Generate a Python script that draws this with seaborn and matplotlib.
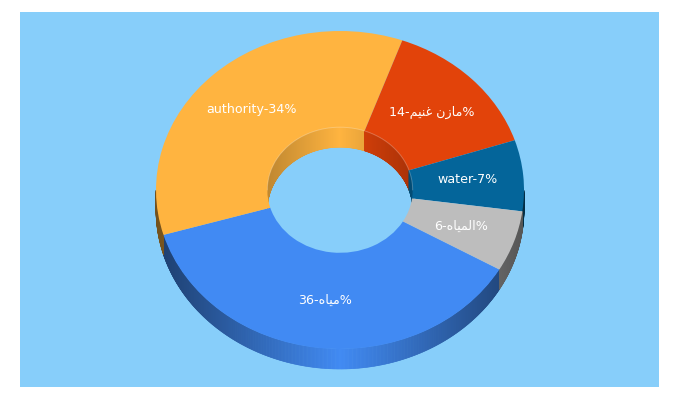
import numpy as np
import matplotlib
matplotlib.use("Agg")
import matplotlib.pyplot as plt
from matplotlib.collections import PolyCollection
import seaborn as sns

# Dados do grafico (ordem horaria, a partir do azul)
# Arabe em formas de apresentacao e ordem visual: o matplotlib nao faz shaping nem bidi
categorias = [
    "36-\ufee9\ufe8e\ufef4\ufee3%",
    "authority-34%",
    "14-\ufee2\ufef4\ufee8\ufecf \ufee5\ufeaf\ufe8e\ufee3%",
    "water-7%",
    "6-\ufee9\ufe8e\ufef4\ufee4\ufedf\ufe8d%",
]
valores = [36, 34, 14, 7, 6]
cores = ["#418AF3", "#FFB440", "#E2430A", "#04659A", "#BDBDBD"]

# Geometria em pixels da imagem de referencia
CX, CY = 340, 190
RX, RY = 184, 159
ESPESSURA = 20
RAIO_FURO = 0.395
INICIO = 120  # graus, sentido horario a partir do topo


# Parede lateral de cada fatia, em tiras com sombra conforme x
def desenhar_paredes(ax, fatias, raio, sombra_borda, frente):
    profundidade = ESPESSURA / RY
    total = sum(valores)
    inicio = INICIO
    for valor, cor in zip(valores, fatias):
        fim = inicio + 360 * valor / total
        ang = np.radians(np.linspace(inicio, fim, max(int(fim - inicio) * 4, 2)))
        inicio = fim
        tiras, tons = [], []
        for a0, a1 in zip(ang[:-1], ang[1:]):
            meio = (a0 + a1) / 2
            if (np.cos(meio) < 0) != frente:
                continue
            x0, y0 = raio * np.sin(a0), raio * np.cos(a0)
            x1, y1 = raio * np.sin(a1), raio * np.cos(a1)
            tiras.append([(x0, y0), (x1, y1), (x1, y1 - profundidade), (x0, y0 - profundidade)])
            fator = 1 - sombra_borda * abs(np.sin(meio))
            tons.append(tuple(np.array(cor) * fator))
        if tiras:
            ax.add_collection(PolyCollection(tiras, facecolors=tons, edgecolors=tons,
                                             linewidths=0.4, zorder=1))


def main():
    sns.set_theme(style="white")
    plt.rcParams["font.family"] = ["DejaVu Sans"]
    paleta = sns.color_palette(cores)

    fig = plt.figure(figsize=(6.8, 4), dpi=100, facecolor="white")
    ax = fig.add_axes([20 / 680, 13 / 400, 639 / 680, 375 / 400])

    wedges, textos = ax.pie(
        valores,
        labels=categorias,
        colors=paleta,
        startangle=90 - INICIO,
        counterclock=False,
        labeldistance=(1 + RAIO_FURO) / 2,
        wedgeprops={"width": 1 - RAIO_FURO, "zorder": 2, "linewidth": 0},
        textprops={"color": "white", "fontsize": 9.1},
    )
    for texto in textos:
        texto.set_ha("center")

    desenhar_paredes(ax, paleta, 1, 0.55, True)
    desenhar_paredes(ax, paleta, RAIO_FURO, 0.25, False)

    # Filete claro na borda superior da parede interna
    arco = np.radians(np.linspace(-90, 90, 181))
    ax.plot(RAIO_FURO * np.sin(arco), RAIO_FURO * np.cos(arco), color="white",
            alpha=0.25, linewidth=0.7, zorder=2.5)

    # A pizza vira elipse: proporcao livre e limites em pixels
    ax.set_aspect("auto")
    ax.set_xlim((20 - CX) / RX, (659 - CX) / RX)
    ax.set_ylim((CY - 387) / RY, (CY - 12) / RY)
    ax.set_frame_on(True)
    ax.set_facecolor("#87CEFA")
    sns.despine(ax=ax, left=True, bottom=True)

    fig.savefig("out.png", dpi=100)


if __name__ == "__main__":
    main()
